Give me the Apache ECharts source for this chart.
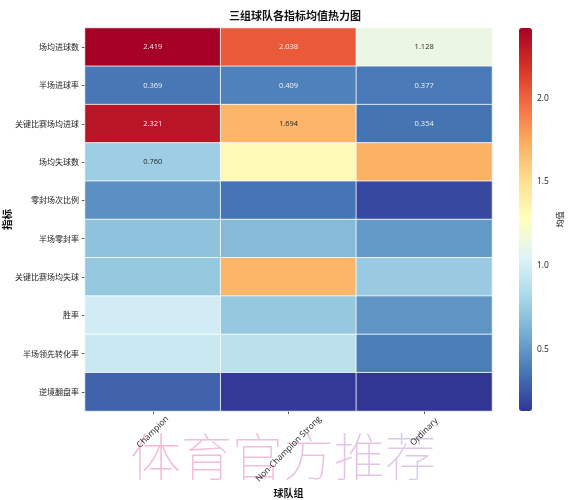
<!DOCTYPE html>
<html>
<head>
<meta charset="utf-8">
<script src="https://cdn.jsdelivr.net/npm/echarts@6/dist/echarts.min.js"></script>
<style>
  html, body { margin: 0; padding: 0; background: #fff; }
  #chart { width: 568px; height: 500px; }
</style>
</head>
<body>
<div id="chart"></div>
<script>
// 球队组
var groups = ['Champion', 'Non-Champion Strong', 'Ordinary']
// 指标
var metrics = ['场均进球数', '半场进球率', '关键比赛场均进球', '场均失球数', '零封场次比例',
  '半场零封率', '关键比赛场均失球', '胜率', '半场领先转化率', '逆境翻盘率']
// 各组均值（按指标顺序）
var champion = [2.419, 0.369, 2.321, 0.760, 0.47, 0.70, 0.73, 0.98, 0.95, 0.29]
var nonChampion = [2.038, 0.409, 1.694, 1.32, 0.36, 0.66, 1.70, 0.73, 0.885, 0.14]
var ordinary = [1.128, 0.377, 0.354, 1.72, 0.20, 0.51, 0.74, 0.485, 0.39, 0.13]
// 原图只标注了前 10 个格子
var annotatedCount = 10
// 色条刻度
var barTicks = [0.5, 1.0, 1.5, 2.0]

// RdYlBu_r
var cmap = ['#313695', '#4575b4', '#74add1', '#abd9e9', '#e0f3f8', '#ffffbf',
  '#fee090', '#fdae61', '#f46d43', '#d73027', '#a50026']

var cols = [champion, nonChampion, ordinary]
var all = champion.concat(nonChampion, ordinary)
var vmin = Math.min.apply(null, all)
var vmax = Math.max.apply(null, all)

var cells = []
var n = 0
metrics.forEach(function (m, r) {
  cols.forEach(function (col, c) {
    var v = col[r]
    var t = (v - vmin) / (vmax - vmin)
    var dark = t < 0.22 || t > 0.78
    cells.push({
      value: [c, r, v],
      label: {
        show: n < annotatedCount,
        color: dark ? 'rgba(255,255,255,0.9)' : '#262626'
      }
    })
    n++
  })
})

var latin = '"Open Sans", "Noto Sans", sans-serif'
var cjk = '"Noto Sans CJK SC", sans-serif'

// 水印逐字颜色（粉 -> 淡紫）
var wmChars = '体育官方推荐'.split('')
var wmColors = ['#f5aecb', '#f2b1d0', '#edb4d7', '#e6b7de', '#dfbae4', '#d9bde9']
var wmRich = {}
wmChars.forEach(function (ch, i) {
  wmRich['c' + i] = { fill: wmColors[i], fontSize: 51, fontFamily: cjk, fontWeight: 100 }
})

// x 轴标签：旋转 45°，居中于刻度；长标签单独放在第二条轴上以便下移
var longLabel = groups[1]
var xLabelBase = {
  rotate: 45, align: 'center', verticalAlign: 'middle', interval: 0,
  fontFamily: latin, fontSize: 8.5, color: '#222'
}

var chart = echarts.init(document.getElementById('chart'))
chart.setOption({
  animation: false,
  title: {
    text: '三组球队各指标均值热力图',
    left: 290,
    top: 5,
    textAlign: 'center',
    textStyle: { fontFamily: cjk, fontSize: 11, fontWeight: 'bold', color: '#111' }
  },
  grid: [
    { left: 85, right: 76, top: 28, bottom: 89, outerBoundsMode: 'none' },
    { left: 519, width: 13, top: 28, bottom: 89, outerBoundsMode: 'none' }
  ],
  xAxis: [{
    type: 'category',
    gridIndex: 0,
    data: groups,
    name: '球队组',
    nameLocation: 'middle',
    nameGap: 77,
    nameMoveOverlap: false,
    nameTextStyle: { fontFamily: cjk, fontSize: 10, fontWeight: 'bold', color: '#111' },
    axisLine: { show: false },
    axisTick: { show: true, alignWithLabel: true, length: 3, lineStyle: { color: '#555' } },
    axisLabel: Object.assign({}, xLabelBase, {
      margin: 21,
      formatter: function (v) { return v === longLabel ? '' : v }
    }),
    splitArea: { show: false }
  }, {
    type: 'value', gridIndex: 1, show: false
  }, {
    type: 'category',
    gridIndex: 0,
    position: 'bottom',
    offset: 0,
    data: groups,
    axisLine: { show: false },
    axisTick: { show: false },
    splitLine: { show: false },
    axisLabel: Object.assign({}, xLabelBase, {
      margin: 38,
      formatter: function (v) { return v === longLabel ? v : '' }
    })
  }],
  yAxis: [{
    type: 'category',
    gridIndex: 0,
    inverse: true,
    data: metrics,
    name: '指标',
    nameLocation: 'middle',
    nameGap: 73,
    nameRotate: 90,
    nameMoveOverlap: false,
    nameTextStyle: { fontFamily: cjk, fontSize: 10.5, fontWeight: 'bold', color: '#111' },
    axisLine: { show: false },
    axisTick: { show: true, alignWithLabel: true, length: 3, lineStyle: { color: '#555' } },
    axisLabel: { fontFamily: cjk, fontSize: 8, color: '#222', margin: 6 }
  }, {
    type: 'value',
    gridIndex: 1,
    position: 'right',
    min: vmin,
    max: vmax,
    name: '均值',
    nameLocation: 'middle',
    nameGap: 24,
    nameRotate: 90,
    nameMoveOverlap: false,
    nameTextStyle: { fontFamily: cjk, fontSize: 8, color: '#222' },
    axisLine: { show: false },
    splitLine: { show: false },
    axisTick: { show: true, length: 3, customValues: barTicks, lineStyle: { color: '#555' } },
    axisLabel: {
      customValues: barTicks, margin: 5, fontFamily: latin, fontSize: 8.5, color: '#222',
      formatter: function (v) { return v.toFixed(1) }
    }
  }],
  visualMap: {
    type: 'continuous',
    seriesIndex: 0,
    min: vmin,
    max: vmax,
    calculable: false,
    left: 519,
    top: 28,
    itemWidth: 13,
    itemHeight: 383,
    padding: 0,
    text: null,
    showLabel: false,
    inRange: { color: cmap }
  },
  series: [{
    type: 'heatmap',
    xAxisIndex: 0,
    yAxisIndex: 0,
    data: cells,
    label: {
      fontFamily: latin, fontSize: 7.5,
      formatter: function (p) { return p.value[2].toFixed(3) }
    },
    itemStyle: { borderColor: 'rgba(255,255,255,0.8)', borderWidth: 1 },
    emphasis: { disabled: true }
  }],
  graphic: [{
    type: 'text',
    left: 130,
    top: 431,
    zlevel: -1,
    silent: true,
    style: {
      text: wmChars.map(function (ch, i) { return '{c' + i + '|' + ch + '}' }).join(''),
      rich: wmRich,
      opacity: 0.85
    }
  }]
})
</script>
</body>
</html>
